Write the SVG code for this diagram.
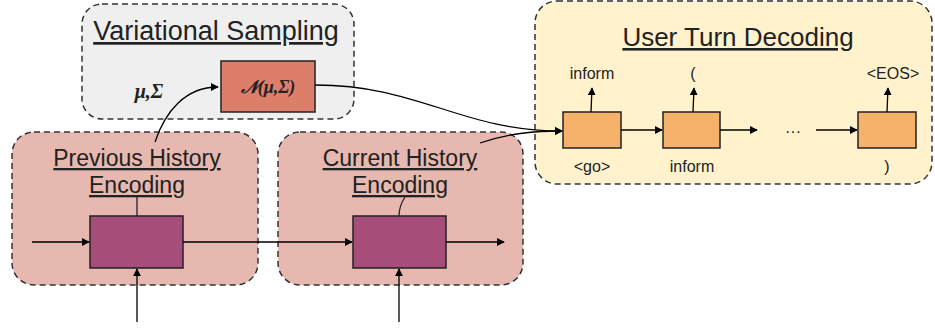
<svg xmlns="http://www.w3.org/2000/svg" width="935" height="328" viewBox="0 0 935 328">
<defs>
<marker id="ah" viewBox="0 0 10 10" refX="9" refY="5" markerWidth="8" markerHeight="8" markerUnits="userSpaceOnUse" orient="auto">
<path d="M0,0 L10,5 L0,10 z" fill="#000"/>
</marker>
<style>
.grp{stroke:#333;stroke-width:1.5;stroke-dasharray:6,4}
.t{font-family:"Liberation Sans",Arial,sans-serif;fill:#222;text-decoration:underline}
.s{font-family:"Liberation Sans",Arial,sans-serif;font-size:16px;fill:#222;text-anchor:middle}
.c{fill:none;stroke:#000;stroke-width:1.3;marker-end:url(#ah)}
.l{fill:none;stroke:#222;stroke-width:1.3}
.cell{stroke:#222;stroke-width:1.5}
</style>
</defs>
<g id="variational">
<rect class="grp" x="82" y="4" width="272" height="115" rx="20" fill="#efefef"/>
<text class="t" x="216" y="40" font-size="27" text-anchor="middle">Variational Sampling</text>
<text x="149" y="98" font-family="'Liberation Serif',serif" font-size="20" font-weight="bold" font-style="italic" text-anchor="middle" fill="#222">μ,Σ</text>
</g>
<g id="normal">
<rect class="cell" x="221" y="61" width="94" height="51" fill="#dd7e6b"/>
<text x="268" y="93" font-family="'Liberation Serif',serif" font-size="18" font-weight="bold" font-style="italic" text-anchor="middle" fill="#222">𝒩(μ,Σ)</text>
</g>
<g id="prev">
<rect class="grp" x="12" y="132" width="246" height="153" rx="22" fill="#e6b8af"/>
<text class="t" x="137" y="166" font-size="23" text-anchor="middle">Previous History</text>
<text class="t" x="137" y="193" font-size="23" text-anchor="middle">Encoding</text>
<rect class="cell" x="90" y="216" width="93" height="52" fill="#a64d79"/>
</g>
<g id="curr">
<rect class="grp" x="278" y="132" width="245" height="153" rx="22" fill="#e6b8af"/>
<text class="t" x="400" y="166" font-size="23" text-anchor="middle">Current History</text>
<text class="t" x="400" y="193" font-size="23" text-anchor="middle">Encoding</text>
<rect class="cell" x="353" y="216" width="93" height="52" fill="#a64d79"/>
</g>
<g id="decoder">
<rect class="grp" x="535" y="1" width="397" height="183" rx="22" fill="#fff2cc"/>
<text class="t" x="738" y="46" font-size="26" text-anchor="middle">User Turn Decoding</text>
<rect class="cell" x="563" y="112" width="58" height="36" fill="#f6b26b"/>
<rect class="cell" x="663" y="112" width="57" height="36" fill="#f6b26b"/>
<rect class="cell" x="858" y="112" width="58" height="36" fill="#f6b26b"/>
<text class="s" x="592" y="79">inform</text>
<text class="s" x="693" y="79">(</text>
<text class="s" x="893" y="79">&lt;EOS&gt;</text>
<text class="s" x="592" y="172">&lt;go&gt;</text>
<text class="s" x="692" y="172">inform</text>
<text class="s" x="887" y="172">)</text>
<text class="s" x="793" y="137" font-size="22">···</text>
</g>
<g id="connectors">
<path class="c" d="M155,142 C165,112 185,87 218,87"/>
<path class="c" d="M315,85 C420,85 460,131 562,131"/>
<path class="c" d="M480,143 C510,133 535,131 562,131"/>
<path class="l" d="M137,197 L137,216"/>
<path class="l" d="M405,197 C401,203 399,208 399,216"/>
<path class="c" d="M32,242 L89,242"/>
<path class="c" d="M183,242 L352,242"/>
<path class="c" d="M446,242 L504,242"/>
<path class="c" d="M137,322 L137,269"/>
<path class="c" d="M399,322 L399,269"/>
<path class="c" d="M621,130 L662,130"/>
<path class="c" d="M720,130 L757,130"/>
<path class="c" d="M816,130 L857,130"/>
<path class="c" d="M591,112 L592,88"/>
<path class="c" d="M693,112 L694,88"/>
<path class="c" d="M887,112 L888,88"/>
</g>
</svg>
